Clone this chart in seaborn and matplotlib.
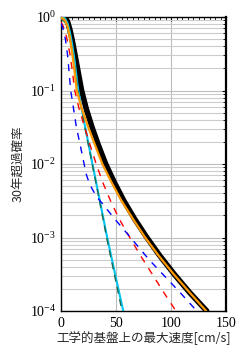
import numpy as np
import pandas as pd
import matplotlib
matplotlib.use("Agg")
import matplotlib.pyplot as plt
import seaborn as sns
from matplotlib.ticker import LogLocator, MultipleLocator, LogFormatterMathtext, NullFormatter

# ---- data ----
black_v = [0, 2, 4, 6, 8, 10, 12, 15, 18.7, 23, 28.2, 34, 40.6, 48.5, 57.1, 67, 78, 90, 103, 117, 132.5]
black_p = [1.0, 0.995, 0.96, 0.86, 0.68, 0.5, 0.35, 0.2, 0.1, 0.056, 0.0316, 0.018, 0.01, 0.0056, 0.00316, 0.00178, 0.001, 0.00056, 0.000316, 0.000178, 0.0001]

orange_v = [0, 2, 4, 6, 8, 10, 12, 14.3, 19, 24.8, 31, 37.6, 46, 55, 65.5, 76.5, 89, 102.5, 117, 132]
orange_p = [0.97, 0.95, 0.88, 0.74, 0.53, 0.34, 0.2, 0.1, 0.056, 0.0316, 0.018, 0.01, 0.0056, 0.00316, 0.00178, 0.001, 0.00056, 0.000316, 0.000178, 0.0001]

cyan_v = [0, 2, 4, 6, 8, 10, 12, 14, 15.7, 22, 28.6, 35.3, 42, 49.2, 56.6]
cyan_p = [1.0, 0.99, 0.94, 0.82, 0.63, 0.44, 0.28, 0.16, 0.1, 0.0316, 0.01, 0.00316, 0.001, 0.000316, 0.0001]

green_v = [0, 2, 4, 6, 8, 10, 12, 14, 15.3, 21.7, 28.4, 35, 41.5, 48.5, 55.5]
green_p = [0.93, 0.9, 0.83, 0.7, 0.52, 0.36, 0.23, 0.14, 0.1, 0.0316, 0.01, 0.00316, 0.001, 0.000316, 0.0001]

red_v = [0, 2, 4, 6, 8, 10, 12.5, 16.5, 21.5, 26.5, 32, 38, 45, 53, 62.5, 72.5, 83, 93.5, 104.5]
red_p = [0.86, 0.75, 0.62, 0.46, 0.32, 0.2, 0.1, 0.056, 0.0316, 0.018, 0.01, 0.0056, 0.00316, 0.00178, 0.001, 0.00056, 0.000316, 0.000178, 0.0001]

blue_v = [0, 2, 4, 6, 7.5, 8.8, 11.3, 14, 17.5, 21, 23, 25.5, 28.6, 33, 37.6, 48, 58.7, 68, 80, 94, 108, 123.5]
blue_p = [0.82, 0.68, 0.5, 0.3, 0.17, 0.1, 0.058, 0.0316, 0.018, 0.01, 0.0072, 0.0056, 0.0045, 0.0035, 0.0029, 0.00185, 0.0012, 0.00082, 0.0005, 0.0003, 0.00018, 0.0001]

xticks = [0, 50, 100, 150]
xlabel = "工学的基盤上の最大速度[cm/s]"
ylabel = "30年超過確率"

sns.set_style("white")
plt.rcParams['font.family'] = ['Noto Sans CJK JP', 'DejaVu Sans']
plt.rcParams['mathtext.fontset'] = 'stix'

fig = plt.figure(figsize=(2.47, 3.57), dpi=100)
ax = fig.add_axes([61/247, 1-311/357, (226-61)/247, (311-17)/357])

ax.set_yscale('log')
ax.set_xlim(0, 150)
ax.set_ylim(1e-4, 1)

def draw(v, p, **kw):
    sns.lineplot(x=v, y=p, ax=ax, sort=False, estimator=None, **kw)

draw(black_v, black_p, color='black', lw=4.0, zorder=3)
draw(orange_v, orange_p, color='#ff9900', lw=1.6, zorder=4)
draw(cyan_v, cyan_p, color='#00c4f0', lw=1.5, zorder=3)
draw(green_v, green_p, color='#1f6b4f', lw=1.0, dashes=(5, 4), zorder=3)
draw(red_v, red_p, color='#ff0000', lw=1.0, dashes=(5, 5), zorder=3)
draw(blue_v, blue_p, color='#0000ff', lw=1.0, dashes=(5, 5), zorder=3)

ax.set_xticks(xticks)
ax.xaxis.set_minor_locator(MultipleLocator(5))
ax.yaxis.set_major_locator(LogLocator(base=10, numticks=10))
ax.yaxis.set_minor_locator(LogLocator(base=10, subs=np.arange(2, 10), numticks=10))
ax.yaxis.set_major_formatter(LogFormatterMathtext())
ax.yaxis.set_minor_formatter(NullFormatter())

ax.grid(True, which='major', axis='both', color='#bdbdbd', lw=0.8)
ax.grid(True, which='minor', axis='y', color='#cccccc', lw=0.8)
ax.set_axisbelow(True)

ax.tick_params(which='both', direction='in', top=True, right=True, colors='black')
ax.tick_params(which='major', length=3, width=0.8)
ax.tick_params(which='minor', length=2, width=0.6)
for lab in ax.get_xticklabels() + ax.get_yticklabels():
    lab.set_fontfamily('Liberation Serif')
    lab.set_fontsize(10)
ax.tick_params(axis='x', pad=4)

for s in ax.spines.values():
    s.set_color('black')
    s.set_linewidth(1.0)
ax.spines['right'].set_linewidth(1.6)

ax.set_xlabel(xlabel, fontsize=9, labelpad=1)
ax.set_ylabel(ylabel, fontsize=9, labelpad=4)
if ax.get_legend() is not None:
    ax.get_legend().remove()

fig.savefig('out.png', dpi=100)
